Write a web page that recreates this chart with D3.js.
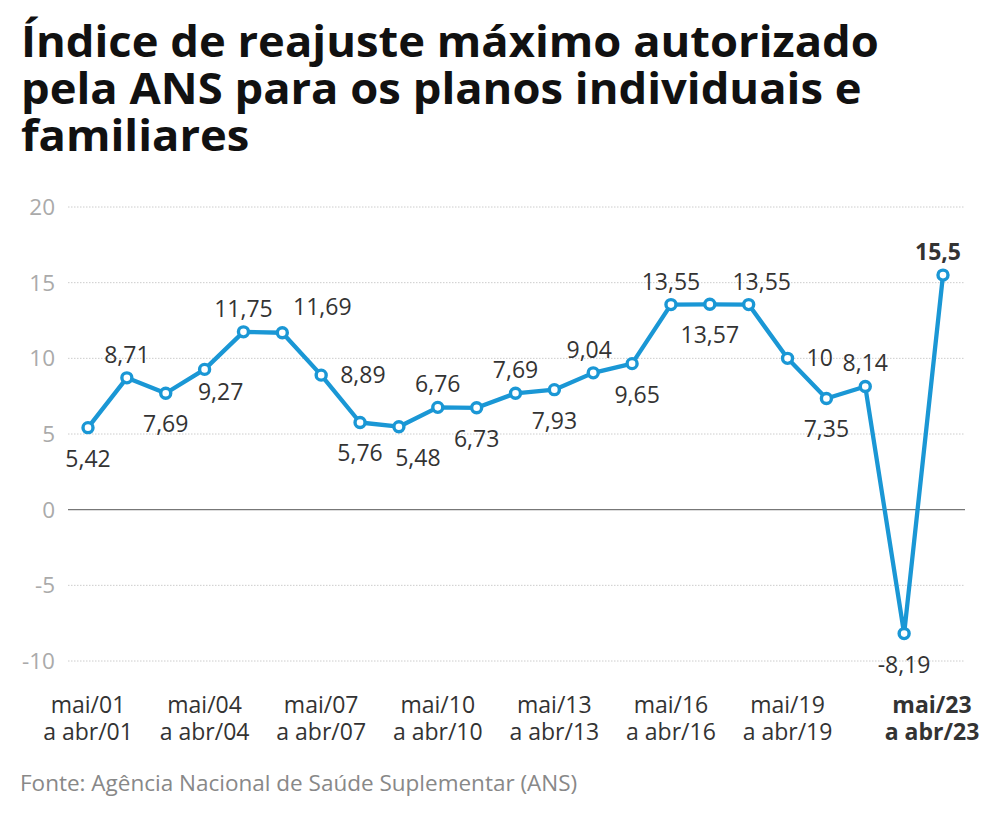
<!DOCTYPE html>
<html>
<head>
<meta charset="utf-8">
<script src="https://cdn.jsdelivr.net/npm/d3@7"></script>
<style>
  html, body { margin: 0; padding: 0; background: #fff; }
  svg { display: block; }
</style>
</head>
<body>
<svg id="chart" width="984" height="822"></svg>
<script>
const titleLines = ["Índice de reajuste máximo autorizado", "pela ANS para os planos individuais e", "familiares"];
const years = [2001,2002,2003,2004,2005,2006,2007,2008,2009,2010,2011,2012,2013,2014,2015,2016,2017,2018,2019,2020,2021,2022,2023];
const values = [5.42,8.71,7.69,9.27,11.75,11.69,8.89,5.76,5.48,6.76,6.73,7.69,7.93,9.04,9.65,13.55,13.57,13.55,10,7.35,8.14,-8.19,15.5];
const valueLabels = ["5,42","8,71","7,69","9,27","11,75","11,69","8,89","5,76","5,48","6,76","6,73","7,69","7,93","9,04","9,65","13,55","13,57","13,55","10","7,35","8,14","-8,19","15,5"];
// label placement: "a" above, "b" below, "r" right
const labelPlace = ["b","a","b","b","a","a","r","b","b","a","b","a","b","a","b","a","b","a","r","b","a","b","a"];
const yTicks = [-10,-5,0,5,10,15,20];
const xTickYears = [2001,2004,2007,2010,2013,2016,2019,2023];
const xTickLine1 = ["mai/01","mai/04","mai/07","mai/10","mai/13","mai/16","mai/19","mai/23"];
const xTickLine2 = ["a abr/01","a abr/04","a abr/07","a abr/10","a abr/13","a abr/16","a abr/19","a abr/23"];
const source = "Fonte: Agência Nacional de Saúde Suplementar (ANS)";

const svg = d3.select("#chart");
const font = "'Open Sans', sans-serif";
const blue = "#1a97d5";

// Title (single text element, one tspan per line)
const tg = svg.append("g");
const tt = tg.append("text")
  .attr("font-family", font).attr("font-weight", 700).attr("font-size", 43)
  .attr("fill", "#111");
tt.selectAll("tspan").data(titleLines).join("tspan")
  .attr("x", 0).attr("y", (d,i) => 57 + i*47).text(d => d);
const w0 = tt.selectAll("tspan").nodes()[0].getComputedTextLength();
const sx = 858 / w0;
tg.attr("transform", `translate(21,0) scale(${sx},1)`);

const x = d3.scaleLinear().domain([2001, 2023]).range([88, 943]);
const y = d3.scaleLinear().domain([-10, 20]).range([661, 207]);

// grid
svg.append("g").selectAll("line").data(yTicks).join("line")
  .attr("x1", 68).attr("x2", 965)
  .attr("y1", d => y(d)).attr("y2", d => y(d))
  .attr("stroke", d => d === 0 ? "#777" : "#ccc")
  .attr("stroke-width", d => d === 0 ? 1.3 : 1)
  .attr("stroke-dasharray", d => d === 0 ? null : "1.5,1.5");

// y axis labels
svg.append("g").selectAll("text").data(yTicks).join("text")
  .attr("x", 55).attr("y", d => y(d) + 8)
  .attr("text-anchor", "end")
  .attr("font-family", font).attr("font-size", 22.5).attr("fill", "#aaa")
  .text(d => d);

// line
const line = d3.line().x((d,i) => x(years[i])).y(d => y(d));
svg.append("path").datum(values)
  .attr("d", line).attr("fill", "none")
  .attr("stroke", blue).attr("stroke-width", 4.3).attr("stroke-linejoin", "round");

svg.append("g").selectAll("circle").data(values).join("circle")
  .attr("cx", (d,i) => x(years[i])).attr("cy", d => y(d))
  .attr("r", 5).attr("fill", "#fff").attr("stroke", blue).attr("stroke-width", 3.4);

// value labels
const dxOff = {3: 16, 5: 40, 8: 19, 13: -4, 14: 5, 17: 13, 22: -5};
svg.append("g").selectAll("text").data(values).join("text")
  .attr("x", (d,i) => {
    const base = x(years[i]);
    if (labelPlace[i] === "r") return base + 19;
    return base + (dxOff[i] || 0);
  })
  .attr("y", (d,i) => {
    const p = labelPlace[i];
    const yy = y(d);
    if (i === 3) return yy + 31;
    if (i === 5) return yy - 18;
    if (p === "a") return yy - 15;
    if (p === "b") return yy + 39;
    return yy + 8;
  })
  .attr("text-anchor", (d,i) => labelPlace[i] === "r" ? "start" : "middle")
  .attr("font-family", font).attr("font-size", 23)
  .attr("font-weight", (d,i) => i === values.length - 1 ? 700 : 400)
  .attr("fill", "#333")
  .text((d,i) => valueLabels[i]);

// x axis labels
const xg = svg.append("g");
xTickYears.forEach((yr, i) => {
  const last = i === xTickYears.length - 1;
  const cx = x(yr) + (last ? -11 : 0);
  const t = xg.append("text").attr("text-anchor", "middle")
    .attr("font-family", font).attr("font-size", 23).attr("fill", "#333")
    .attr("font-weight", last ? 700 : 400);
  t.append("tspan").attr("x", cx).attr("y", 713).text(xTickLine1[i]);
  t.append("tspan").attr("x", cx).attr("y", 740).text(xTickLine2[i]);
});

// source
svg.append("text").attr("x", 20).attr("y", 791)
  .attr("font-family", font).attr("font-size", 22.5).attr("fill", "#888")
  .text(source);
</script>
</body>
</html>
